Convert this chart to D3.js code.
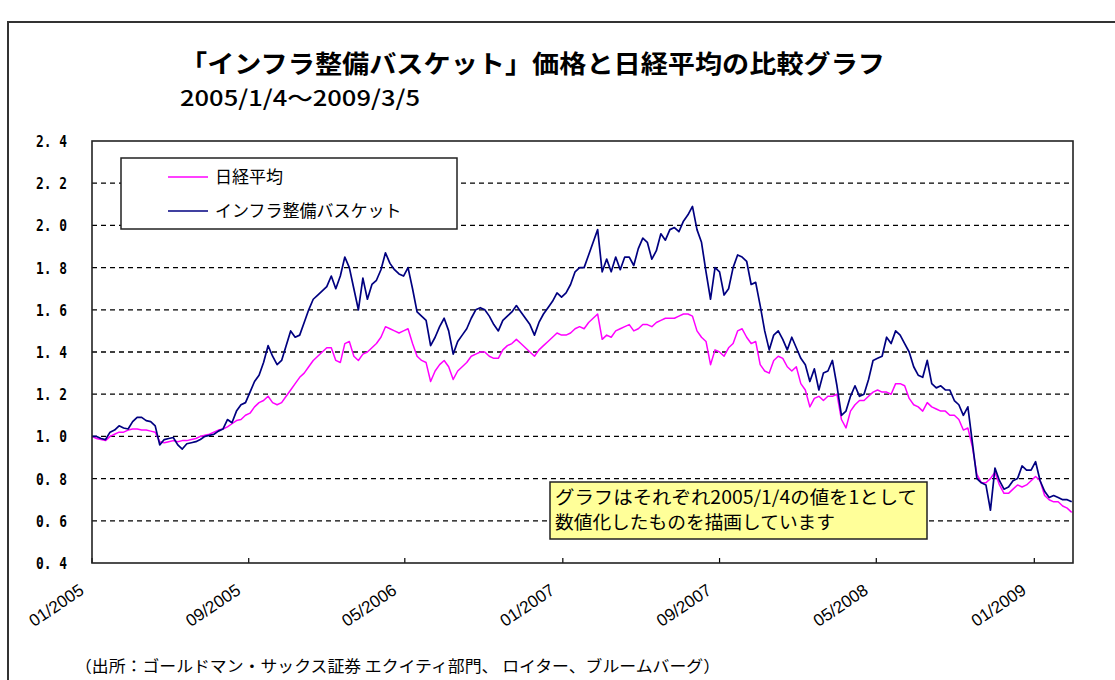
<!DOCTYPE html>
<html>
<head>
<meta charset="utf-8">
<script src="https://cdn.jsdelivr.net/npm/d3@7"></script>
<style>
  body { margin: 0; background: #fff; }
  svg { display: block; }
</style>
</head>
<body>
<script>
const WIDTH = 1115
const HEIGHT = 680
const JP = "'Noto Sans CJK JP', 'Noto Sans', sans-serif"

// weekly samples, first one is 2005/1/4
const START = new Date(2005, 0, 4)
const END = new Date(2009, 2, 5)
const STEP_DAYS = 7

const seriesNames = ['日経平均', 'インフラ整備バスケット']

const nikkei = [
  1.00, 0.99, 0.985, 0.98, 1.00, 1.01, 1.02, 1.02, 1.03, 1.035,
  1.035, 1.03, 1.03, 1.025, 1.02, 0.975, 0.97, 0.975, 0.98, 0.975,
  0.98, 0.98, 0.985, 0.99, 1.00, 1.005, 1.01, 1.02, 1.03, 1.035,
  1.045, 1.06, 1.075, 1.08, 1.10, 1.11, 1.14, 1.16, 1.17, 1.19,
  1.16, 1.15, 1.16, 1.19, 1.22, 1.25, 1.28, 1.30, 1.33, 1.36,
  1.38, 1.40, 1.42, 1.42, 1.36, 1.35, 1.44, 1.45, 1.38, 1.36,
  1.39, 1.40, 1.42, 1.44, 1.47, 1.52, 1.51, 1.50, 1.49, 1.50,
  1.51, 1.44, 1.38, 1.36, 1.35, 1.26, 1.31, 1.34, 1.36, 1.33,
  1.27, 1.31, 1.33, 1.35, 1.38, 1.39, 1.40, 1.40, 1.38, 1.37,
  1.37, 1.41, 1.43, 1.44, 1.46, 1.44, 1.42, 1.40, 1.38, 1.41,
  1.43, 1.45, 1.47, 1.49, 1.48, 1.48, 1.49, 1.51, 1.52, 1.51,
  1.54, 1.56, 1.58, 1.46, 1.48, 1.47, 1.50, 1.51, 1.52, 1.53,
  1.50, 1.51, 1.53, 1.53, 1.52, 1.54, 1.55, 1.56, 1.56, 1.56,
  1.57, 1.58, 1.58, 1.57, 1.50, 1.47, 1.45, 1.34, 1.41, 1.40,
  1.38, 1.42, 1.44, 1.50, 1.51, 1.47, 1.44, 1.45, 1.34, 1.31,
  1.30, 1.36, 1.38, 1.37, 1.33, 1.31, 1.33, 1.25, 1.22, 1.14,
  1.18, 1.19, 1.17, 1.19, 1.19, 1.20, 1.08, 1.04, 1.12, 1.15,
  1.17, 1.17, 1.19, 1.21, 1.22, 1.21, 1.21, 1.20, 1.25, 1.25,
  1.24, 1.18, 1.15, 1.14, 1.12, 1.16, 1.14, 1.13, 1.12, 1.12,
  1.10, 1.10, 1.08, 1.03, 1.04, 0.95, 0.82, 0.78, 0.78, 0.80,
  0.83, 0.77, 0.73, 0.73, 0.75, 0.77, 0.76, 0.77, 0.79, 0.81,
  0.79, 0.72, 0.70, 0.69, 0.69, 0.67, 0.66, 0.64
]

const basket = [
  1.00, 1.00, 0.99, 0.985, 1.02, 1.03, 1.05, 1.04, 1.035, 1.07,
  1.09, 1.09, 1.075, 1.07, 1.05, 0.96, 0.985, 0.99, 0.995, 0.96,
  0.94, 0.965, 0.97, 0.975, 0.985, 1.00, 1.005, 1.01, 1.025, 1.035,
  1.08, 1.065, 1.12, 1.15, 1.16, 1.21, 1.26, 1.29, 1.35, 1.43,
  1.38, 1.34, 1.36, 1.43, 1.50, 1.47, 1.48, 1.54, 1.60, 1.65,
  1.67, 1.69, 1.71, 1.76, 1.70, 1.76, 1.85, 1.80, 1.70, 1.60,
  1.75, 1.65, 1.72, 1.74, 1.79, 1.87, 1.82, 1.79, 1.77, 1.76,
  1.80, 1.70, 1.59, 1.57, 1.55, 1.43, 1.47, 1.52, 1.56, 1.50,
  1.39, 1.45, 1.48, 1.51, 1.56, 1.60, 1.61, 1.60, 1.57, 1.53,
  1.50, 1.55, 1.57, 1.59, 1.62, 1.59, 1.56, 1.53, 1.48, 1.54,
  1.58, 1.61, 1.64, 1.68, 1.66, 1.68, 1.72, 1.78, 1.80, 1.80,
  1.86, 1.92, 1.98, 1.78, 1.84, 1.78, 1.85, 1.79, 1.85, 1.85,
  1.81, 1.89, 1.94, 1.92, 1.84, 1.88, 1.96, 1.93, 1.98, 1.99,
  1.97, 2.02, 2.05, 2.09, 1.98, 1.92, 1.78, 1.65, 1.80, 1.78,
  1.67, 1.70, 1.80, 1.86, 1.85, 1.83, 1.72, 1.73, 1.62, 1.50,
  1.41, 1.48, 1.50, 1.46, 1.41, 1.47, 1.42, 1.37, 1.34, 1.26,
  1.32, 1.22, 1.30, 1.31, 1.36, 1.24, 1.10, 1.12, 1.19, 1.24,
  1.19, 1.20, 1.27, 1.36, 1.37, 1.38, 1.47, 1.44, 1.50, 1.48,
  1.44, 1.40, 1.33, 1.29, 1.28, 1.36, 1.25, 1.23, 1.24, 1.22,
  1.22, 1.17, 1.15, 1.10, 1.14, 0.97, 0.80, 0.78, 0.77, 0.65,
  0.85, 0.79, 0.75, 0.76, 0.79, 0.80, 0.86, 0.84, 0.84, 0.88,
  0.79, 0.74, 0.71, 0.72, 0.71, 0.70, 0.70, 0.69
]

const yTicks = [0.4, 0.6, 0.8, 1.0, 1.2, 1.4, 1.6, 1.8, 2.0, 2.2, 2.4]
const xTickMonths = [0, 8, 16, 24, 32, 40, 48]

const titleText = '「インフラ整備バスケット」価格と日経平均の比較グラフ'
const subTitleText = '2005/1/4～2009/3/5'
const noteLines = ['グラフはそれぞれ2005/1/4の値を1として', '数値化したものを描画しています']
const sourceText = '（出所：ゴールドマン・サックス証券 エクイティ部門、 ロイター、ブルームバーグ）'

const PLOT = { left: 92, right: 1073, top: 141, bottom: 563 }

const svg = d3.select('body').append('svg').attr('width', WIDTH).attr('height', HEIGHT)

// outer chart frame (runs off the right and bottom of the picture)
svg.append('path')
  .attr('d', `M8,${HEIGHT + 5} L8,22 L${WIDTH + 5},22`)
  .attr('fill', 'none').attr('stroke', '#333').attr('stroke-width', 2)

svg.append('text')
  .attr('x', 180).attr('y', 73)
  .attr('font-family', JP).attr('font-weight', 'bold').attr('font-size', 25)
  .attr('textLength', 705).attr('lengthAdjust', 'spacingAndGlyphs')
  .text(titleText)

svg.append('text')
  .attr('x', 180).attr('y', 106)
  .attr('font-family', JP).attr('font-weight', 500).attr('font-size', 22)
  .attr('textLength', 240).attr('lengthAdjust', 'spacingAndGlyphs')
  .text(subTitleText)

const x = d3.scaleTime().domain([START, END]).range([PLOT.left, PLOT.right])
const y = d3.scaleLinear().domain([0.4, 2.4]).range([PLOT.bottom, PLOT.top])

const dates = nikkei.map((d, i) => d3.timeDay.offset(START, i * STEP_DAYS))

// grid
svg.append('g')
  .selectAll('line')
  .data(yTicks.filter(v => v > 0.4 && v < 2.4))
  .enter()
  .append('line')
  .attr('x1', PLOT.left).attr('x2', PLOT.right)
  .attr('y1', d => y(d)).attr('y2', d => y(d))
  .attr('stroke', '#000').attr('stroke-width', 1.3).attr('stroke-dasharray', '5,4')

// y labels
svg.append('g')
  .selectAll('text')
  .data(yTicks)
  .enter()
  .append('text')
  .attr('x', 67).attr('y', d => y(d) + 6)
  .attr('text-anchor', 'end')
  .attr('font-family', "'DejaVu Sans Mono', monospace").attr('font-weight', 'bold').attr('font-size', 16)
  .attr('textLength', 31).attr('lengthAdjust', 'spacingAndGlyphs')
  .text(d => d3.format('.1f')(d).replace('.', '. '))

// x ticks (inside) and rotated labels
const xTicks = xTickMonths.map(m => d3.timeMonth.offset(START, m))
const fmt = d3.timeFormat('%m/%Y')

svg.append('g')
  .selectAll('line')
  .data(xTicks)
  .enter()
  .append('line')
  .attr('x1', d => x(d)).attr('x2', d => x(d))
  .attr('y1', PLOT.bottom).attr('y2', PLOT.bottom - 5)
  .attr('stroke', '#000').attr('stroke-width', 1.2)

svg.append('g')
  .selectAll('text')
  .data(xTicks)
  .enter()
  .append('text')
  .attr('transform', d => `translate(${x(d) - 7},${PLOT.bottom + 30}) rotate(-34)`)
  .attr('text-anchor', 'end')
  .attr('font-family', "'Liberation Sans', Arial, sans-serif").attr('font-size', 17)
  .text(d => fmt(d))

// lines
const line = d3.line()
  .x((d, i) => x(dates[i]))
  .y(d => y(d))

svg.append('path').datum(nikkei)
  .attr('d', line).attr('fill', 'none')
  .attr('stroke', '#ff00ff').attr('stroke-width', 1.5).attr('stroke-linejoin', 'round')

svg.append('path').datum(basket)
  .attr('d', line).attr('fill', 'none')
  .attr('stroke', '#000080').attr('stroke-width', 1.7).attr('stroke-linejoin', 'round')

// plot border
svg.append('rect')
  .attr('x', PLOT.left).attr('y', PLOT.top)
  .attr('width', PLOT.right - PLOT.left).attr('height', PLOT.bottom - PLOT.top)
  .attr('fill', 'none').attr('stroke', '#222').attr('stroke-width', 1.6)

// legend
const legend = svg.append('g')
legend.append('rect')
  .attr('x', 121).attr('y', 158).attr('width', 336).attr('height', 71)
  .attr('fill', '#fff').attr('stroke', '#222').attr('stroke-width', 1.5)

const legendColors = ['#ff00ff', '#000080']
legend.selectAll('line')
  .data(seriesNames)
  .enter()
  .append('line')
  .attr('x1', 168).attr('x2', 208)
  .attr('y1', (d, i) => 177 + i * 34).attr('y2', (d, i) => 177 + i * 34)
  .attr('stroke', (d, i) => legendColors[i]).attr('stroke-width', 1.5)

legend.selectAll('text')
  .data(seriesNames)
  .enter()
  .append('text')
  .attr('x', 215).attr('y', (d, i) => 183 + i * 34)
  .attr('font-family', JP).attr('font-size', 17)
  .text(d => d)

// note box
const note = svg.append('g')
note.append('rect')
  .attr('x', 550).attr('y', 482).attr('width', 377).attr('height', 57)
  .attr('fill', '#ffff99').attr('stroke', '#222').attr('stroke-width', 1.5)

note.selectAll('text')
  .data(noteLines)
  .enter()
  .append('text')
  .attr('x', 555).attr('y', (d, i) => 504 + i * 25)
  .attr('font-family', JP).attr('font-size', 18)
  .attr('textLength', (d, i) => [362, 280][i]).attr('lengthAdjust', 'spacingAndGlyphs')
  .text(d => d)

// source
svg.append('text')
  .attr('x', 75).attr('y', 672)
  .attr('font-family', JP).attr('font-size', 16)
  .attr('textLength', 645).attr('lengthAdjust', 'spacingAndGlyphs')
  .text(sourceText)
</script>
</body>
</html>
